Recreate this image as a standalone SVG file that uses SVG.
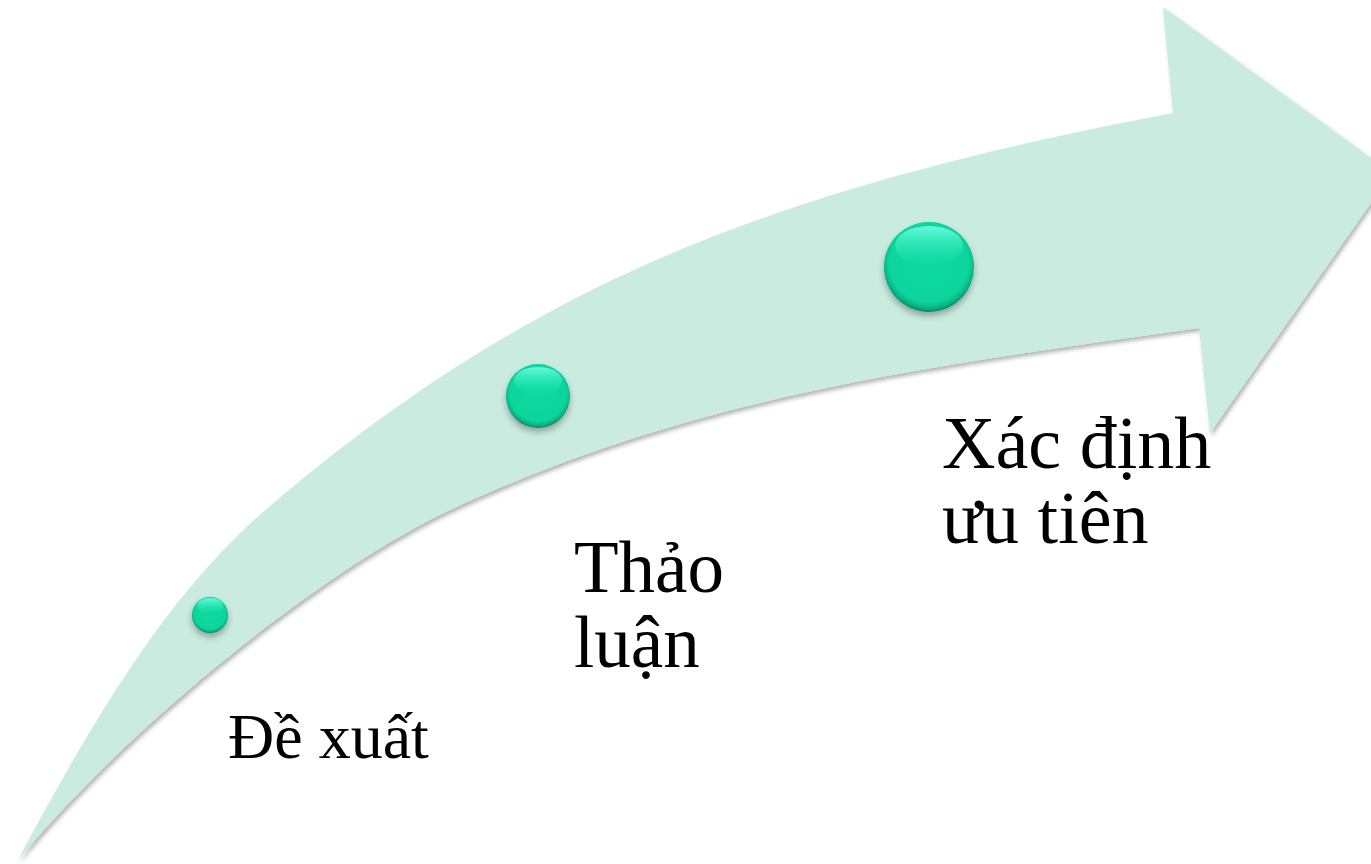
<svg xmlns="http://www.w3.org/2000/svg" width="1371" height="864" viewBox="0 0 1371 864">
<style>
.lbl{font-family:"Liberation Serif","Times New Roman",serif;fill:#000}
</style>
<defs>
<filter id="sh" x="-5%" y="-5%" width="110%" height="110%">
<feDropShadow dx="2" dy="3" stdDeviation="2" flood-color="#000" flood-opacity="0.3"/>
</filter>
<filter id="bsh" x="-30%" y="-30%" width="160%" height="170%">
<feDropShadow dx="0" dy="4" stdDeviation="3" flood-color="#000" flood-opacity="0.3"/>
</filter>
<radialGradient id="ball" cx="50%" cy="45%" r="55%">
<stop offset="0" stop-color="#07DA9F"/>
<stop offset="0.8" stop-color="#08D59C"/>
<stop offset="0.92" stop-color="#06B585"/>
<stop offset="1" stop-color="#0A7F5E"/>
</radialGradient>
<linearGradient id="hl" x1="0" y1="0" x2="0" y2="1">
<stop offset="0" stop-color="#6FFFE0" stop-opacity="0.9"/>
<stop offset="1" stop-color="#20EDB8" stop-opacity="0"/>
</linearGradient>
</defs>
<g id="arrow">
<path filter="url(#sh)" fill="#CAEBDF" d="M18,860 C138,716 330,566.4 450,510 C700,392.5 949,363.75 1199,328 L1210,433 L1392,173 L1163,7 L1173,113 C773,189 537,281.6 277,500 C187,575.6 118,672 18,860 Z"/>
</g>
<g id="node-1">
<circle cx="210" cy="615" r="18" fill="url(#ball)" filter="url(#bsh)"/>
<ellipse cx="210" cy="606" rx="13" ry="8" fill="url(#hl)"/>
</g>
<g id="node-2">
<circle cx="538" cy="396" r="32" fill="url(#ball)" filter="url(#bsh)"/>
<ellipse cx="538" cy="381" rx="24" ry="14" fill="url(#hl)"/>
</g>
<g id="node-3">
<circle cx="929" cy="267" r="45" fill="url(#ball)" filter="url(#bsh)"/>
<ellipse cx="929" cy="246" rx="34" ry="20" fill="url(#hl)"/>
</g>
<g id="label-1">
<text class="lbl" x="228" y="758" font-size="64">Đề xuất</text>
</g>
<g id="label-2">
<text class="lbl" x="574" y="592" font-size="73">Thảo</text>
<text class="lbl" x="574" y="667" font-size="73">luận</text>
</g>
<g id="label-3">
<text class="lbl" x="942" y="468" font-size="74">Xác định</text>
<text class="lbl" x="942" y="543" font-size="74">ưu tiên</text>
</g>
<g id="connectors"/>
</svg>
